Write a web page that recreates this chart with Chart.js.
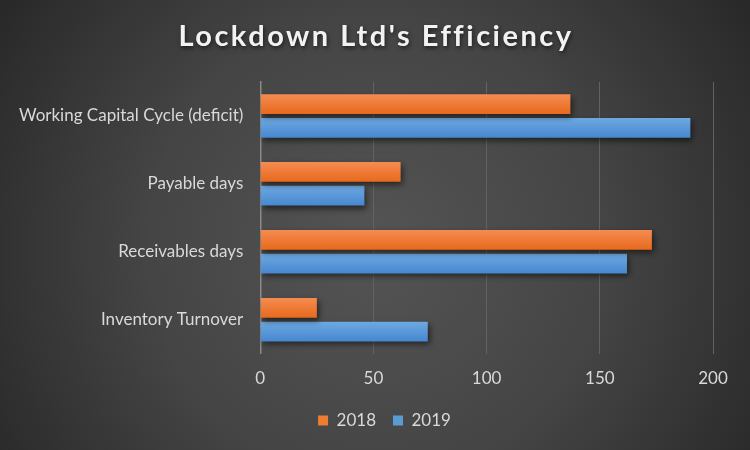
<!DOCTYPE html>
<html>
<head>
<meta charset="utf-8">
<script src="https://cdn.jsdelivr.net/npm/chart.js@4"></script>
<style>
  html, body { margin: 0; padding: 0; background: #333; }
  #wrap { width: 750px; height: 450px; }
</style>
</head>
<body>
<div id="wrap"><canvas id="myChart" width="750" height="450"></canvas></div>
<script>
// data
const categories = ["Working Capital Cycle (deficit)", "Payable days", "Receivables days", "Inventory Turnover"];
const values2018 = [137, 62, 173, 25];
const values2019 = [190, 46, 162, 74];
const xTicks = [0, 50, 100, 150, 200];
const titleText = "Lockdown Ltd's Efficiency";

const textColor = "#d9d9d9";
const fontFam = "Lato, 'Open Sans', sans-serif";

// background radial gradient
const bgPlugin = {
    id: "bg",
    beforeDraw(chart) {
        const c = chart.ctx;
        const w = chart.width, h = chart.height;
        const g = c.createRadialGradient(w / 2, h * 0.55, 0, w / 2, h * 0.55, w * 0.6);
        g.addColorStop(0, "#545454");
        g.addColorStop(0.5, "#454545");
        g.addColorStop(1, "#282828");
        c.save();
        c.fillStyle = g;
        c.fillRect(0, 0, w, h);
        c.restore();
    },
    // legend centred on the whole canvas, not the padded area
    afterLayout(chart) {
        if (chart.legend) {
            chart.legend.left += 27;
            chart.legend.right += 27;
            chart.legend.top -= 9;
            chart.legend.bottom -= 9;
        }
    },
    // title drawn by hand so it can have letter spacing and a shadow
    afterDraw(chart) {
        const c = chart.ctx;
        c.save();
        c.font = "bold 29px " + fontFam;
        c.letterSpacing = "2.5px";
        c.textAlign = "center";
        c.textBaseline = "middle";
        c.shadowColor = "rgba(0,0,0,0.6)";
        c.shadowBlur = 4;
        c.shadowOffsetX = 1;
        c.shadowOffsetY = 2;
        c.fillStyle = "#f2f2f2";
        c.fillText(titleText, chart.width / 2 + 1, 37);
        c.restore();
    }
};

// bar gradients + shadow
const barPlugin = {
    id: "barStyle",
    beforeDatasetsDraw(chart) {
        const c = chart.ctx;
        const cols = [["#f58c52", "#e8691c"], ["#6ea9e2", "#4687cf"]];
        chart.data.datasets.forEach((ds, di) => {
            const meta = chart.getDatasetMeta(di);
            meta.data.forEach((el) => {
                const top = el.y - el.height / 2;
                const g = c.createLinearGradient(0, top, 0, top + el.height);
                g.addColorStop(0, cols[di][0]);
                g.addColorStop(1, cols[di][1]);
                el.options = Object.assign({}, el.options, { backgroundColor: g });
            });
        });
        c.save();
        c.shadowColor = "rgba(0,0,0,0.55)";
        c.shadowBlur = 6;
        c.shadowOffsetX = 2;
        c.shadowOffsetY = 3;
    },
    afterDatasetsDraw(chart) {
        chart.ctx.restore();
    }
};

let ctx = document.getElementById("myChart").getContext("2d");

let myChart = new Chart(ctx, {
    type: "bar",
    data: {
        labels: categories,
        datasets: [
            {
                label: "2018",
                data: values2018,
                backgroundColor: "#ed7d31",
                categoryPercentage: 0.7,
                barPercentage: 0.83,
            },
            {
                label: "2019",
                data: values2019,
                backgroundColor: "#5b9bd5",
                categoryPercentage: 0.7,
                barPercentage: 0.83,
            },
        ],
    },
    plugins: [bgPlugin, barPlugin],
    options: {
        indexAxis: "y",
        responsive: false,
        animation: false,
        layout: {
            padding: { left: 2, right: 37, top: 12, bottom: 2 },
        },
        scales: {
            x: {
                min: 0,
                max: 200,
                afterBuildTicks: (axis) => {
                    axis.ticks = xTicks.map((v) => ({ value: v }));
                },
                grid: {
                    color: "#626262",
                    lineWidth: 1,
                    drawTicks: false,
                },
                border: { display: false },
                ticks: {
                    color: textColor,
                    font: { family: fontFam, size: 17 },
                    padding: 15,
                },
            },
            y: {
                grid: { display: false, drawTicks: false },
                border: { display: true, color: "#8a8a8a", width: 1.5 },
                ticks: {
                    color: textColor,
                    font: { family: fontFam, size: 17 },
                    padding: 17,
                },
            },
        },
        plugins: {
            title: {
                display: true,
                text: titleText,
                color: "rgba(0,0,0,0)",
                font: { family: fontFam, size: 30, weight: "bold" },
                padding: { top: 8, bottom: 26 },
            },
            legend: {
                position: "bottom",
                labels: {
                    color: textColor,
                    font: { family: fontFam, size: 17 },
                    boxWidth: 10,
                    boxHeight: 10,
                    padding: 17,
                },
            },
            tooltip: { enabled: false },
        },
    },
});
</script>
</body>
</html>
